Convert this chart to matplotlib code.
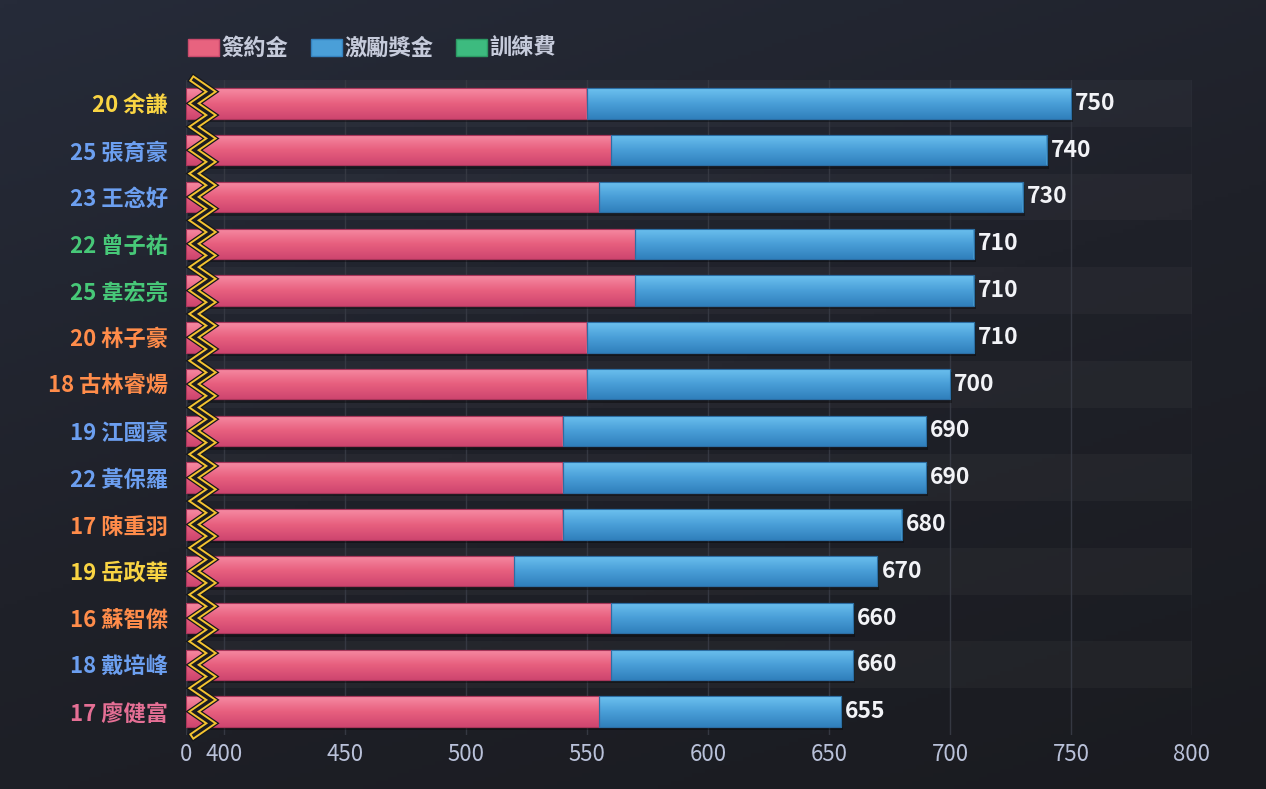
import numpy as np
import matplotlib
matplotlib.use('Agg')
import matplotlib.pyplot as plt
import matplotlib.patheffects as pe
from matplotlib.colors import LinearSegmentedColormap
from matplotlib.patches import Patch

plt.rcParams['font.family'] = ['Noto Sans CJK TC', 'DejaVu Sans']

# data (萬元)
players = ['20 余謙', '25 張育豪', '23 王念好', '22 曾子祐', '25 韋宏亮', '20 林子豪', '18 古林睿煬',
           '19 江國豪', '22 黃保羅', '17 陳重羽', '19 岳政華', '16 蘇智傑', '18 戴培峰', '17 廖健富']
signing = [550, 560, 555, 570, 570, 550, 550, 540, 540, 540, 520, 560, 560, 555]
bonus = [200, 180, 175, 140, 140, 160, 150, 150, 150, 140, 150, 100, 100, 100]
training = [0, 0, 0, 0, 0, 0, 0, 0, 0, 0, 0, 0, 0, 0]
series_names = ['簽約金', '激勵獎金', '訓練費']
label_colors = ['#f9d443', '#6c9ff0', '#6c9ff0', '#47c878', '#47c878', '#ff8c4a', '#ff8c4a',
                '#6c9ff0', '#6c9ff0', '#ff8c4a', '#f9d443', '#ff8c4a', '#6c9ff0', '#e56f95']
ticks = [0, 400, 450, 500, 550, 600, 650, 700, 750, 800]

signing = np.array(signing)
bonus = np.array(bonus)
training = np.array(training)
totals = signing + bonus + training
n = len(players)
y = np.arange(n)

# broken axis: 0..400 squeezed into a small stub
BRK = 15.7
def fwd(v):
    v = np.asarray(v, float)
    return np.where(v < 400, v * BRK / 400, v - 400 + BRK)
def inv(p):
    p = np.asarray(p, float)
    return np.where(p < BRK, p * 400 / BRK, p + 400 - BRK)

fig = plt.figure(figsize=(12.66, 7.89), dpi=100)

# background gradient
bg = fig.add_axes([0, 0, 1, 1], zorder=-10)
gx, gy = np.meshgrid(np.linspace(0, 1, 300), np.linspace(0, 1, 200))
bg_cmap = LinearSegmentedColormap.from_list('bg', ['#262b39', '#1f2129', '#1a1b20'])
bg.imshow(0.35 * gx + 0.65 * gy, cmap=bg_cmap, aspect='auto', extent=(0, 1, 0, 1), origin='upper')
bg.axis('off')

ax = fig.add_axes([186 / 1266, 1 - 735 / 789, 1006 / 1266, 655 / 789])
ax.set_facecolor('none')
ax.set_xscale('function', functions=(fwd, inv))

# alternating row bands
for i in y:
    if i % 2 == 0:
        ax.axhspan(i - 0.5, i + 0.5, color='white', alpha=0.03, lw=0, zorder=0)

h = 0.65
shadow = [pe.SimplePatchShadow(offset=(1.5, -2.5), shadow_rgbFace='black', alpha=0.35), pe.Normal()]
b1 = ax.barh(y, signing, height=h, color='#e8637f', edgecolor='#a8365a', lw=0.8, zorder=3)
b2 = ax.barh(y, bonus, left=signing, height=h, color='#4a9fd8', edgecolor='#2c6ea4', lw=0.8, zorder=3)
b3 = ax.barh(y, training, left=signing + bonus, height=h, color='#3dbb7f', edgecolor='#2a8a5c', lw=0.8, zorder=3)
for b in list(b1) + list(b2):
    b.set_path_effects(shadow)

pink_cmap = LinearSegmentedColormap.from_list('pk', ['#f68ba3', '#e8607f', '#cf4670'])
blue_cmap = LinearSegmentedColormap.from_list('bl', ['#6cc1ef', '#4a9fd8', '#3181bd'])
grad = np.linspace(0, 1, 64).reshape(-1, 1)
for bars, cm in ((b1, pink_cmap), (b2, blue_cmap)):
    for r in bars:
        x0 = r.get_x()
        x1 = x0 + r.get_width()
        y0 = r.get_y()
        y1 = y0 + r.get_height()
        im = ax.imshow(grad, cmap=cm, aspect='auto', extent=(x0, x1, y1, y0),
                       origin='upper', zorder=3.5, interpolation='bilinear')
        im.set_clip_path(r)
        edge = plt.Rectangle((x0, y0), x1 - x0, y1 - y0, fill=False,
                             edgecolor=r.get_edgecolor(), lw=0.8, zorder=3.6)
        ax.add_patch(edge)

# value labels
for yi, t in zip(y, totals):
    ax.annotate(f'{t}', (t, yi), xytext=(3, 0), textcoords='offset points',
                va='center', ha='left', fontsize=16.5, fontweight='bold', color='#f2f3f7', zorder=6)

# zigzag break marker
segs = n * 4
zy = 1 - np.arange(segs + 1) / segs
zx = np.where(np.arange(segs + 1) % 2 == 0, 8 / 1006, 25 / 1006)
for lw, c in ((7.0, '#15161b'), (5.2, '#f4c430'), (2.4, '#1b1c22')):
    ax.plot(zx, zy, color=c, lw=lw, transform=ax.transAxes, clip_on=False,
            solid_joinstyle='miter', zorder=8)

ax.set_xlim(0, 800)
ax.set_ylim(n - 0.5, -0.5)
ax.set_xticks(ticks)
ax.set_xticklabels([str(t) for t in ticks])
ax.set_yticks(y)
ax.set_yticklabels(players, fontsize=16, fontweight='bold')
for lab, c in zip(ax.get_yticklabels(), label_colors):
    lab.set_color(c)
ax.tick_params(axis='x', length=0, labelsize=16, labelcolor='#b9c1d9', pad=6)
ax.tick_params(axis='y', length=0, pad=13)
ax.xaxis.grid(True, color='#353842', lw=1)
ax.set_axisbelow(True)
for s in ax.spines.values():
    s.set_visible(False)

handles = [Patch(facecolor='#e8637f', edgecolor='#c94a6c'),
           Patch(facecolor='#4a9fd8', edgecolor='#3582bf'),
           Patch(facecolor='#3dbb7f', edgecolor='#2c9a64')]
fig.legend(handles, series_names, loc='upper left', bbox_to_anchor=(168 / 1266, 1 - 17 / 789),
           ncol=3, frameon=False, labelcolor='#c6cbdb', handlelength=1.4,
           handleheight=0.8, handletextpad=0.12, columnspacing=1.0, prop={'weight': 'bold', 'size': 16})

fig.savefig('out.png', dpi=100)
